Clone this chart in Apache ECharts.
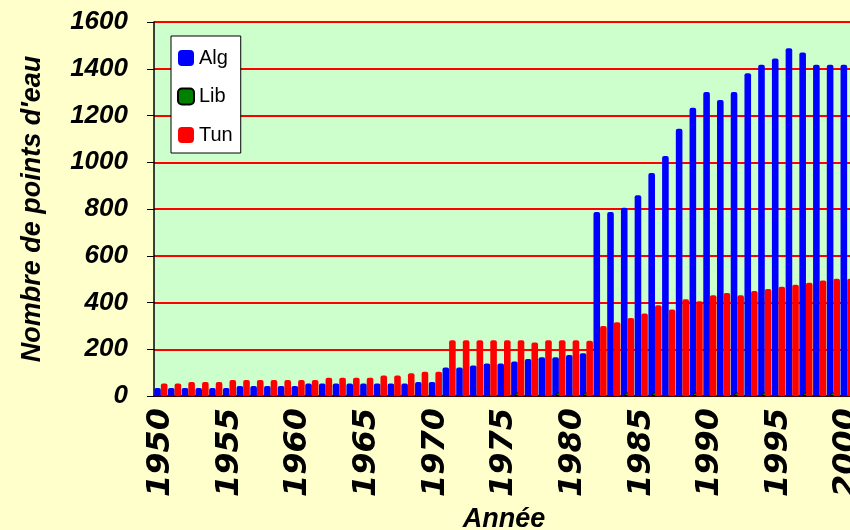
<!DOCTYPE html>
<html>
<head>
<meta charset="utf-8">
<title>Nombre de points d'eau</title>
<script src="https://cdn.jsdelivr.net/npm/echarts@6/dist/echarts.min.js"></script>
<style>
  html, body { margin: 0; padding: 0; background: #FFFFCC; }
  #chart { width: 850px; height: 530px; }
</style>
</head>
<body>
<div id="chart"></div>
<script>
// annees 1950 -> 2000
var years = [];
for (var y = 1950; y <= 2000; y++) years.push(String(y));

var alg = [
  34, 34, 34, 34, 34, 34, 43, 43, 43, 43,
  43, 53, 53, 53, 53, 53, 53, 53, 53, 60,
  60, 122, 122, 131, 139, 139, 148, 158, 166, 166,
  175, 183, 787, 787, 805, 859, 954, 1027, 1143, 1233,
  1301, 1266, 1301, 1381, 1417, 1444, 1488, 1469, 1417, 1417,
  1417
];

// Lib : quelques points seulement, tres petits
var lib = [
  null, null, null, null, null, null, null, null, null, null,
  null, null, null, null, null, null, null, null, null, null,
  null, null, null, null, null, null, 15, null, null, 15,
  null, 15, null, null, 15, null, 15, null, null, 15,
  null, null, 15, null, 15, null, null, 15, null, 15,
  null
];

var tun = [
  53, 53, 60, 60, 60, 68, 68, 68, 68, 68,
  68, 68, 78, 78, 78, 78, 88, 88, 97, 104,
  104, 239, 239, 239, 239, 239, 239, 229, 239, 239,
  239, 236, 299, 316, 334, 353, 388, 370, 414, 405,
  431, 441, 431, 449, 458, 467, 476, 484, 494, 502,
  502
];

var chart = echarts.init(document.getElementById('chart'));

var labelFont = {
  color: '#000',
  fontFamily: 'Arial, "Liberation Sans", sans-serif',
  fontWeight: 'bold',
  fontStyle: 'italic',
  fontSize: 26
};

function barSeries(name, data, color, extra) {
  var s = {
    name: name,
    type: 'bar',
    data: data,
    barWidth: 6.6,
    barGap: '-50%',
    itemStyle: { color: color, borderRadius: [2, 2, 0, 0] },
    emphasis: { disabled: true }
  };
  if (extra) {
    s.itemStyle.borderColor = extra.borderColor;
    s.itemStyle.borderWidth = extra.borderWidth;
  }
  return s;
}

var option = {
  backgroundColor: '#FFFFCC',
  animation: false,
  grid: {
    left: 154, top: 22, width: 700, height: 374,
    show: true, backgroundColor: '#CCFFCC', borderWidth: 0,
    containLabel: false, outerBoundsMode: 'none'
  },
  legend: {
    orient: 'vertical',
    left: 171, top: 36,
    backgroundColor: '#fff',
    borderColor: '#000',
    borderWidth: 1,
    padding: [12, 8, 8, 6],
    itemWidth: 16, itemHeight: 16,
    itemGap: 18.5,
    itemTextGap: 7,
    icon: 'roundRect',
    textStyle: { color: '#000', fontFamily: 'Arial, "Liberation Sans", sans-serif', fontSize: 20, lineHeight: 20 },
    data: ['Alg', 'Lib', 'Tun']
  },
  xAxis: {
    type: 'category',
    data: years,
    name: 'Année',
    nameLocation: 'middle',
    nameGap: 110,
    nameMoveOverlap: false,
    nameTextStyle: Object.assign({}, labelFont, { fontSize: 27 }),
    axisLine: { lineStyle: { color: '#000', width: 1.5 } },
    axisTick: { interval: 0, length: 6, lineStyle: { color: '#000' } },
    axisLabel: Object.assign({}, labelFont, {
      interval: 4, rotate: 90, margin: 12,
      fontFamily: '"DejaVu Sans", Arial, sans-serif', fontSize: 32
    }),
    splitLine: { show: false }
  },
  yAxis: {
    type: 'value',
    min: 0, max: 1600, interval: 200,
    name: "Nombre de points d'eau",
    nameLocation: 'middle',
    nameRotate: 90,
    nameGap: 108,
    nameMoveOverlap: false,
    nameTextStyle: Object.assign({}, labelFont, { fontSize: 27 }),
    axisLine: { show: true, lineStyle: { color: '#000', width: 1.5 } },
    axisTick: { show: true, length: 7, lineStyle: { color: '#000' } },
    axisLabel: Object.assign({}, labelFont, {
      margin: 26,
      formatter: function (v) { return String(v); }
    }),
    splitLine: { lineStyle: { color: '#FF0000', width: 2 } }
  },
  series: [
    barSeries('Alg', alg, '#0000FF'),
    barSeries('Lib', lib, '#008000', { borderColor: '#000', borderWidth: 1 }),
    barSeries('Tun', tun, '#FF0000')
  ]
};

chart.setOption(option);
</script>
</body>
</html>
